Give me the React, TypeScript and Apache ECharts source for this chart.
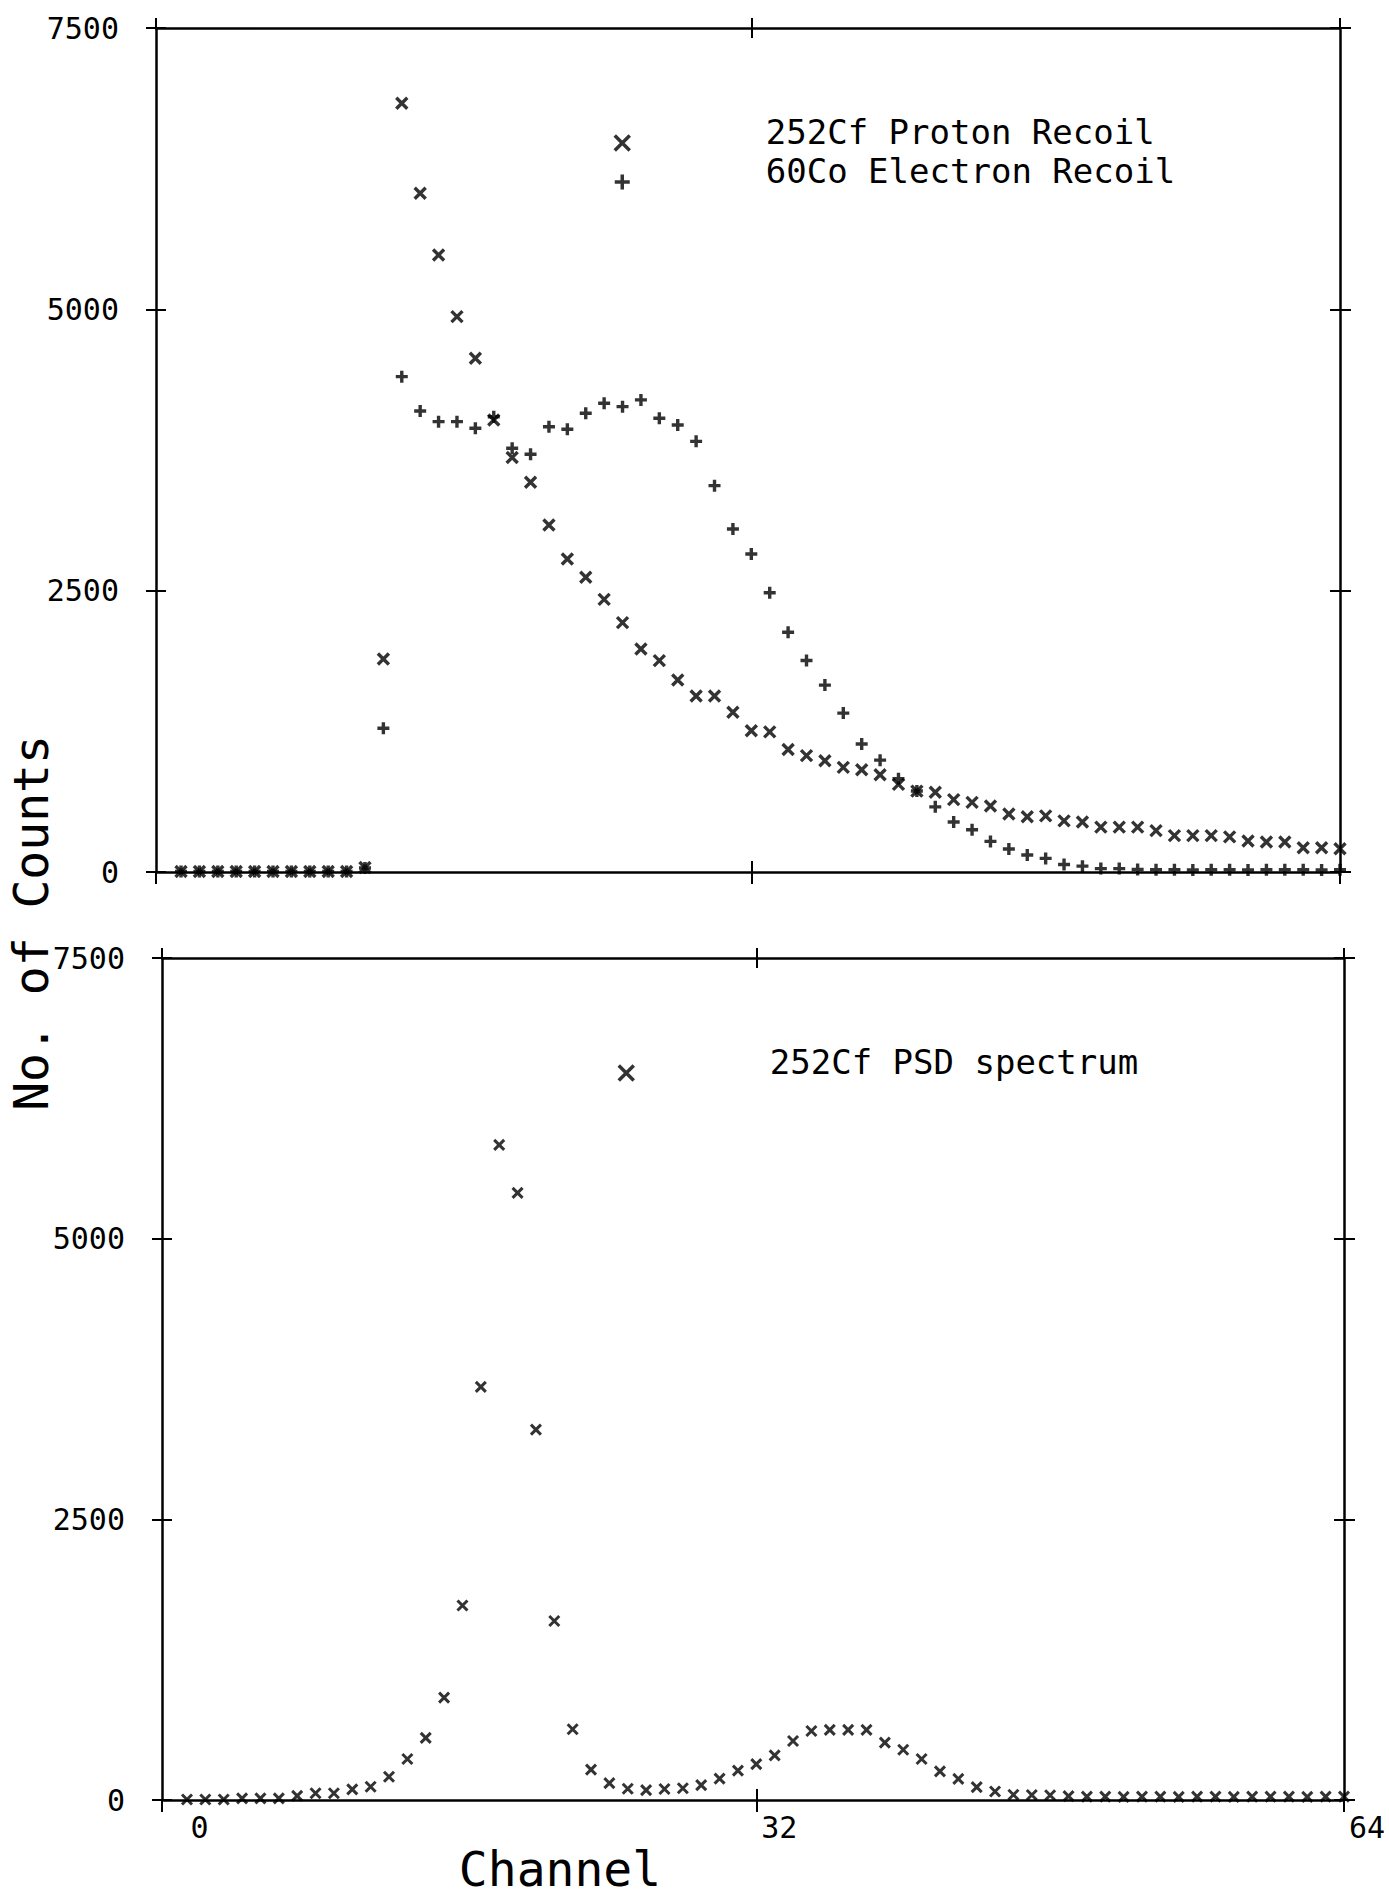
import { useEffect, useRef } from "react";
import * as echarts from "echarts";

// ---- data ----
const channels = [
  1, 2, 3, 4, 5, 6, 7, 8, 9, 10, 11, 12, 13, 14, 15, 16, 17, 18, 19, 20, 21, 22,
  23, 24, 25, 26, 27, 28, 29, 30, 31, 32, 33, 34, 35, 36, 37, 38, 39, 40, 41, 42,
  43, 44, 45, 46, 47, 48, 49, 50, 51, 52, 53, 54, 55, 56, 57, 58, 59, 60, 61, 62,
  63, 64,
];

// "x" markers, upper panel
const cfProtonRecoil = [
  5, 5, 5, 5, 5, 5, 5, 5, 5, 5, 40, 1893, 6831, 6031, 5483, 4935, 4565, 4017,
  3683, 3463, 3084, 2782, 2619, 2423, 2216, 1982, 1878, 1706, 1564, 1564, 1419,
  1255, 1245, 1089, 1034, 989, 930, 908, 864, 779, 719, 709, 643, 619, 587, 515,
  491, 499, 454, 444, 399, 399, 399, 368, 323, 323, 323, 312, 275, 266, 266, 216,
  216, 206,
];

// "+" markers, upper panel
const coElectronRecoil = [
  5, 5, 5, 5, 5, 5, 5, 5, 5, 5, 35, 1277, 4402, 4097, 4002, 4002, 3943, 4046,
  3765, 3712, 3957, 3934, 4076, 4165, 4135, 4195, 4032, 3972, 3827, 3433, 3048,
  2826, 2481, 2131, 1879, 1661, 1412, 1137, 994, 829, 720, 579, 444, 376, 272,
  204, 151, 121, 67, 52, 30, 30, 22, 20, 20, 18, 20, 20, 18, 20, 20, 20, 18, 20,
];

// "x" markers, lower panel
const cfPsdSpectrum = [
  5, 5, 5, 15, 15, 15, 37, 60, 60, 95, 118, 207, 365, 553, 912, 1733, 3680, 5835,
  5408, 3299, 1594, 630, 271, 150, 100, 88, 98, 105, 133, 190, 262, 320, 398, 526,
  615, 625, 625, 625, 511, 448, 365, 255, 188, 115, 76, 47, 45, 42, 35, 30, 30, 28,
  30, 30, 28, 30, 30, 28, 30, 30, 30, 28, 30, 30,
];

const xLabelValues = [0, 32, 64];
const xTickValues = [32];
const countsMax = 7500;
const countsStep = 2500;
const channelMin = -0.36;
const channelMax = 64;

const NAME_PROTON = "252Cf Proton Recoil";
const NAME_ELECTRON = "60Co Electron Recoil";
const NAME_PSD = "252Cf PSD spectrum";

const FONT = '"DejaVu Sans Mono", "Liberation Mono", monospace';
const CROSS = "path://M0,0L10,10M10,0L0,10";
const PLUS = "path://M5,0L5,10M0,5L10,5";
const AXIS_LINE = { color: "#000", width: 2.5 };
const TICK_LINE = { color: "#000", width: 2 };

function makeXAxes(gridIndex: number, withLabels: boolean) {
  const common: any = {
    type: "value",
    gridIndex,
    min: channelMin,
    max: channelMax,
    splitLine: { show: false },
    axisLabel: { show: false },
  };
  const main: any = {
    ...common,
    position: "bottom",
    axisLine: { show: true, onZero: false, lineStyle: AXIS_LINE },
    axisTick: {
      show: true,
      inside: false,
      length: 12,
      customValues: [channelMin, ...xTickValues, channelMax],
      lineStyle: TICK_LINE,
    },
  };
  if (withLabels) {
    main.axisLabel = {
      show: true,
      customValues: xLabelValues,
      align: "left",
      margin: 12,
      formatter: (v: number) => (v === 0 ? `{z|${v}}` : `{n|${v}}`),
      rich: {
        z: { fontSize: 30, fontFamily: FONT, color: "#000", padding: [0, 0, 0, 22] },
        n: { fontSize: 30, fontFamily: FONT, color: "#000", padding: [0, 0, 0, 5] },
      },
    };
    main.name = "Channel";
    main.nameLocation = "middle";
    main.nameGap = 45;
    main.nameTextStyle = {
      fontSize: 48,
      fontFamily: FONT,
      color: "#000",
      padding: [0, 386, 0, 0],
    };
  }
  return [
    main,
    {
      ...common,
      position: "bottom",
      axisLine: { show: false, onZero: false },
      axisTick: { show: true, inside: true, length: 11, customValues: xTickValues, lineStyle: TICK_LINE },
    },
    {
      ...common,
      position: "top",
      axisLine: { show: true, onZero: false, lineStyle: AXIS_LINE },
      axisTick: {
        show: true,
        inside: false,
        length: 10,
        customValues: [channelMin, ...xTickValues, channelMax],
        lineStyle: TICK_LINE,
      },
    },
    {
      ...common,
      position: "top",
      axisLine: { show: false, onZero: false },
      axisTick: { show: true, inside: true, length: 10, customValues: xTickValues, lineStyle: TICK_LINE },
    },
  ];
}

function makeYAxes(gridIndex: number) {
  const common: any = {
    type: "value",
    gridIndex,
    min: 0,
    max: countsMax,
    interval: countsStep,
    splitLine: { show: false },
    axisLabel: { show: false },
  };
  return [
    {
      ...common,
      position: "left",
      axisLine: { show: true, onZero: false, lineStyle: AXIS_LINE },
      axisTick: { show: true, inside: false, length: 10, lineStyle: TICK_LINE },
      axisLabel: {
        show: true,
        margin: 37,
        fontSize: 30,
        fontFamily: FONT,
        color: "#000",
        padding: [0, 0, 14, 0],
        formatter: (v: number) => String(v),
      },
    },
    {
      ...common,
      position: "left",
      axisLine: { show: false, onZero: false },
      axisTick: { show: true, inside: true, length: 10, lineStyle: TICK_LINE },
    },
    {
      ...common,
      position: "right",
      axisLine: { show: true, onZero: false, lineStyle: AXIS_LINE },
      axisTick: { show: true, inside: false, length: 11, lineStyle: TICK_LINE },
    },
    {
      ...common,
      position: "right",
      axisLine: { show: false, onZero: false },
      axisTick: { show: true, inside: true, length: 10, lineStyle: TICK_LINE },
    },
  ];
}

function makeLegend(name: string, icon: string, left: number, top: number) {
  return {
    data: [name],
    left,
    top,
    orient: "vertical",
    padding: 0,
    itemWidth: 15,
    itemHeight: 15,
    icon,
    selectedMode: false,
    itemStyle: { color: "transparent", borderColor: "#000", borderWidth: 3.5 },
    formatter: (n: string) => `{g| }{t|${n}}`,
    textStyle: {
      rich: {
        g: { width: 131, fontSize: 34, fontFamily: FONT },
        t: {
          fontSize: 34,
          fontFamily: FONT,
          color: "#000",
          lineHeight: 36,
          padding: [0, 0, 22, 0],
        },
      },
    },
  };
}

function pairs(values: number[]) {
  return channels.map((c, i) => [c, values[i]]);
}

export default function App() {
  const ref = useRef<HTMLDivElement>(null);

  useEffect(() => {
    if (!ref.current) return;
    const chart = echarts.init(ref.current, undefined, { renderer: "svg" });
    const markerStyle = { color: "transparent", borderColor: "#000", borderWidth: 3.4 };
    chart.setOption({
      animation: false,
      backgroundColor: "#fff",
      grid: [
        { left: 156, top: 28, width: 1184, height: 844 },
        { left: 162, top: 958, width: 1182, height: 842 },
      ],
      xAxis: [...makeXAxes(0, false), ...makeXAxes(1, true)],
      yAxis: [...makeYAxes(0), ...makeYAxes(1)],
      legend: [
        makeLegend(NAME_PROTON, CROSS, 613, 115),
        makeLegend(NAME_ELECTRON, PLUS, 613, 154),
        makeLegend(NAME_PSD, CROSS, 617, 1045),
      ],
      graphic: [
        {
          type: "text",
          x: 31,
          y: 923,
          rotation: Math.PI / 2,
          style: {
            text: "No. of Counts",
            fontSize: 48,
            fontFamily: FONT,
            fill: "#000",
            align: "center",
            verticalAlign: "middle",
          },
        },
      ],
      series: [
        {
          name: NAME_PROTON,
          type: "scatter",
          xAxisIndex: 0,
          yAxisIndex: 0,
          symbol: CROSS,
          symbolSize: 11,
          itemStyle: markerStyle,
          data: pairs(cfProtonRecoil),
        },
        {
          name: NAME_ELECTRON,
          type: "scatter",
          xAxisIndex: 0,
          yAxisIndex: 0,
          symbol: PLUS,
          symbolSize: 12,
          itemStyle: markerStyle,
          data: pairs(coElectronRecoil),
        },
        {
          name: NAME_PSD,
          type: "scatter",
          xAxisIndex: 4,
          yAxisIndex: 4,
          symbol: CROSS,
          symbolSize: 10,
          itemStyle: { ...markerStyle, borderWidth: 3 },
          data: pairs(cfPsdSpectrum),
        },
      ],
    });
    return () => chart.dispose();
  }, []);

  return (
    <div
      ref={ref}
      style={{ position: "absolute", left: 0, top: 0, width: 1389, height: 1901, background: "#fff" }}
    />
  );
}
